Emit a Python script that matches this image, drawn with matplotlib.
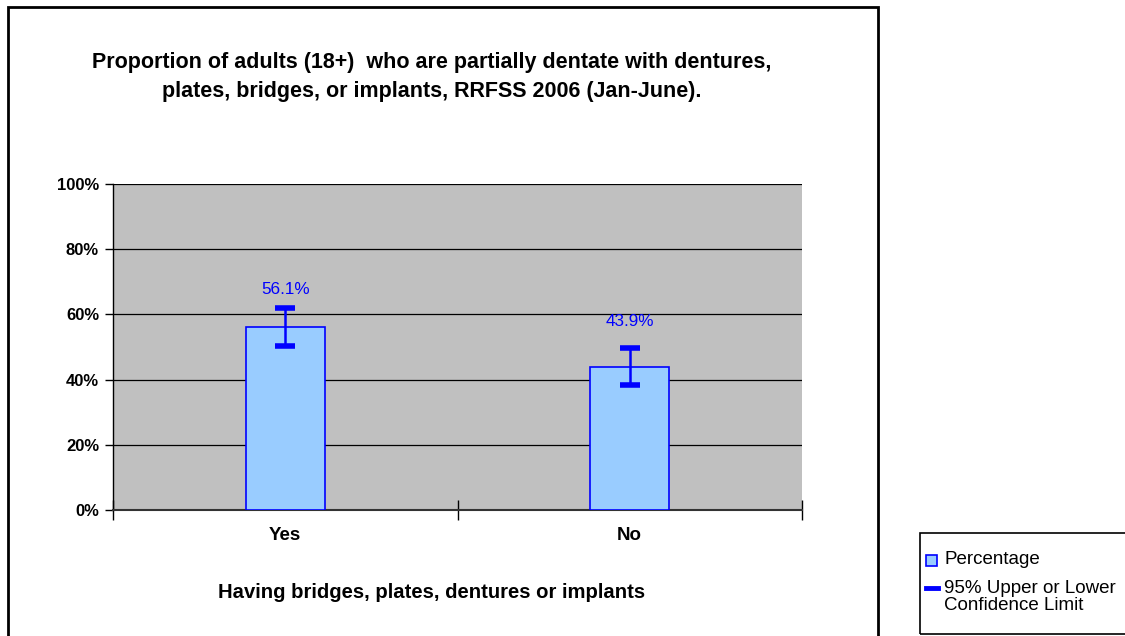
import numpy as np
import matplotlib.pyplot as plt
from matplotlib.patches import Rectangle
from matplotlib.lines import Line2D

plt.rcParams['font.family'] = ['Liberation Sans', 'DejaVu Sans']

# data
categories = ["Yes", "No"]
percent = [56.1, 43.9]
ci_lower = [50.4, 38.3]
ci_upper = [62.0, 49.8]
labels = ["56.1%", "43.9%"]

title = ("Proportion of adults (18+)  who are partially dentate with dentures,\n"
         "plates, bridges, or implants, RRFSS 2006 (Jan-June).")
xlabel = "Having bridges, plates, dentures or implants"

W, H = 1125, 636
fig = plt.figure(figsize=(W / 100, H / 100), dpi=100)

# outer chart border
fig.add_artist(Rectangle((8 / W, 1 - 700 / H), 870 / W, 693 / H,
                         transform=fig.transFigure, fill=False,
                         edgecolor="black", linewidth=2))

ax = fig.add_axes([113 / W, 1 - 510 / H, 689 / W, 326 / H])
ax.set_facecolor("#C0C0C0")

x = np.arange(len(categories))
bars = ax.bar(x, percent, width=0.23, color="#99CCFF", edgecolor="#0000FF",
              linewidth=1.2, zorder=3)
err = [np.array(percent) - np.array(ci_lower), np.array(ci_upper) - np.array(percent)]
ax.errorbar(x, percent, yerr=err, fmt="none", ecolor="#0000FF", elinewidth=1.8,
            capsize=7, capthick=4, zorder=4)

offsets = [13, 19]
for xi, up, lab, off in zip(x, ci_upper, labels, offsets):
    ax.annotate(lab, (xi, up), xytext=(0, off), textcoords="offset points",
                ha="center", va="center", color="#0000FF", fontsize=12.3)

ax.set_xlim(-0.5, 1.5)
ax.set_ylim(0, 100)
ax.set_yticks(np.arange(0, 101, 20))
ax.set_yticklabels([f"{v}%" for v in range(0, 101, 20)], fontweight="bold", fontsize=12)
ax.yaxis.grid(True, color="black", linewidth=0.9)
ax.set_axisbelow(True)

ax.set_xticks(x)
ax.set_xticklabels(categories, fontweight="bold", fontsize=13.5)
ax.tick_params(axis="x", length=0, pad=12)
ax.set_xticks([-0.5, 0.5, 1.5], minor=True)
ax.tick_params(axis="x", which="minor", direction="inout", length=14, width=1)
ax.tick_params(axis="y", direction="out", length=6, width=1, pad=4)

for s in ["top", "right"]:
    ax.spines[s].set_visible(False)
ax.spines["left"].set_linewidth(1)
ax.spines["bottom"].set_linewidth(1.5)
ax.spines["bottom"].set_color("#333333")

fig.text(432 / W, 1 - 77 / H, title, ha="center", va="center",
         fontweight="bold", fontsize=15.5, linespacing=1.45)
fig.text(432 / W, 1 - 593 / H, xlabel, ha="center", va="center",
         fontweight="bold", fontsize=14.6)

# legend
fig.add_artist(Rectangle((920 / W, 1 - 634 / H), 220 / W, 101 / H,
                         transform=fig.transFigure, fill=False,
                         edgecolor="black", linewidth=1.2))
fig.add_artist(Rectangle((926 / W, 1 - 566 / H), 11 / W, 11 / H,
                         transform=fig.transFigure, facecolor="#99CCFF",
                         edgecolor="#0000FF", linewidth=1.2))
fig.add_artist(Line2D([926 / W, 938 / W], [1 - 588 / H, 1 - 588 / H],
                      transform=fig.transFigure, color="#0000FF", linewidth=3.5))
fig.text(944 / W, 1 - 560 / H, "Percentage", ha="left", va="center", fontsize=13.5)
fig.text(944 / W, 1 - 597 / H, "95% Upper or Lower\nConfidence Limit",
         ha="left", va="center", fontsize=13.5, linespacing=1.0)

fig.savefig("out.png", dpi=100)
